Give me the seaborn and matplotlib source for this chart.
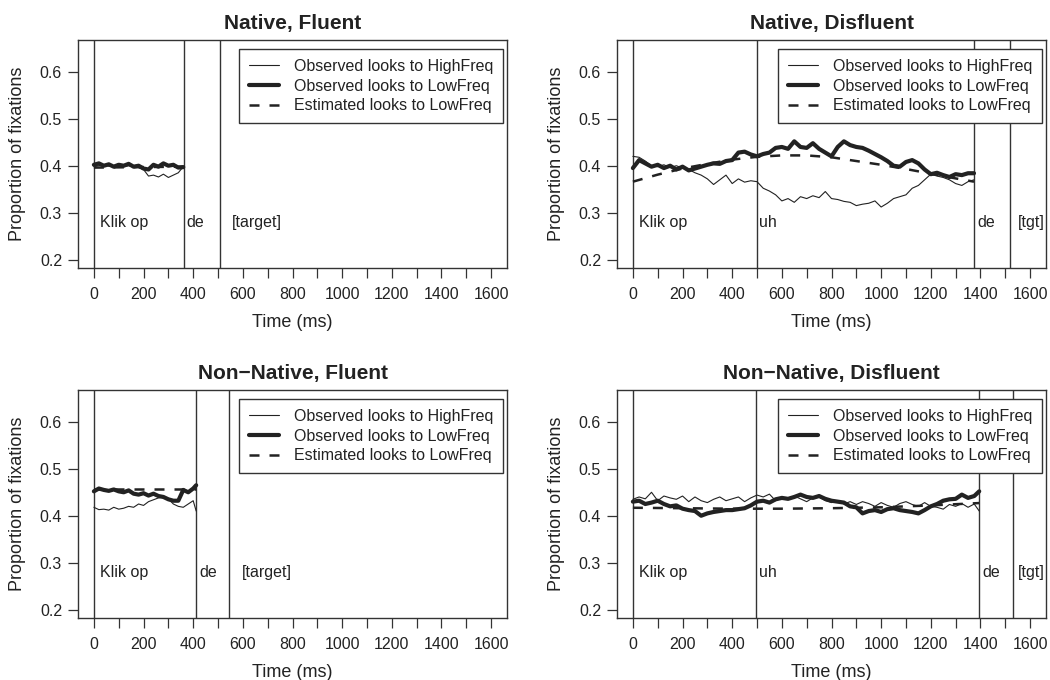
import numpy as np
import pandas as pd
import matplotlib
matplotlib.use("Agg")
import matplotlib.pyplot as plt
import seaborn as sns

sns.set_theme(style="ticks")
plt.rcParams['font.family'] = ['Liberation Sans', 'DejaVu Sans']
plt.rcParams['lines.dashed_pattern'] = [4.0, 4.0]

INK = '#222222'

# ---- data (time in ms, proportion of fixations) ----

# Native, Fluent
nf_time = np.arange(0, 361, 20)
nf_high = [0.398, 0.400, 0.402, 0.399, 0.400, 0.404, 0.398, 0.400, 0.398, 0.396,
           0.392, 0.378, 0.380, 0.376, 0.382, 0.375, 0.380, 0.385, 0.398]
nf_low = [0.402, 0.405, 0.400, 0.403, 0.398, 0.402, 0.400, 0.404, 0.398, 0.400,
          0.394, 0.392, 0.402, 0.398, 0.405, 0.400, 0.402, 0.396, 0.397]
nf_est_time = [0, 362]
nf_est = [0.396, 0.398]

# Native, Disfluent
nd_time = np.append(np.arange(0, 1351, 25), 1374)
nd_high = [0.420, 0.418, 0.410, 0.400, 0.398, 0.402, 0.396, 0.400, 0.395, 0.392,
           0.385, 0.380, 0.372, 0.360, 0.370, 0.380, 0.362, 0.372, 0.365, 0.368,
           0.366, 0.352, 0.346, 0.338, 0.325, 0.330, 0.322, 0.334, 0.330, 0.336,
           0.332, 0.345, 0.330, 0.328, 0.324, 0.322, 0.315, 0.318, 0.320, 0.325,
           0.312, 0.320, 0.330, 0.334, 0.338, 0.352, 0.358, 0.370, 0.382, 0.378,
           0.375, 0.370, 0.362, 0.358, 0.366, 0.370]
nd_low = [0.395, 0.412, 0.405, 0.398, 0.402, 0.395, 0.400, 0.392, 0.398, 0.390,
          0.394, 0.398, 0.402, 0.405, 0.404, 0.410, 0.412, 0.428, 0.430, 0.424,
          0.420, 0.425, 0.428, 0.438, 0.440, 0.436, 0.452, 0.440, 0.438, 0.448,
          0.436, 0.428, 0.420, 0.440, 0.452, 0.444, 0.440, 0.438, 0.432, 0.425,
          0.418, 0.410, 0.400, 0.398, 0.408, 0.412, 0.405, 0.392, 0.382, 0.385,
          0.380, 0.376, 0.382, 0.380, 0.384, 0.384]
nd_est_time = [0, 100, 200, 300, 400, 500, 600, 700, 800, 900, 1000, 1100, 1200, 1300, 1374]
nd_est = [0.366, 0.381, 0.394, 0.404, 0.413, 0.419, 0.422, 0.422, 0.418, 0.410,
          0.402, 0.393, 0.383, 0.373, 0.366]

# Non-Native, Fluent
nnf_time = np.append(np.arange(0, 401, 20), 412)
nnf_high = [0.418, 0.413, 0.414, 0.412, 0.418, 0.414, 0.416, 0.420, 0.418, 0.425,
            0.422, 0.430, 0.434, 0.438, 0.440, 0.436, 0.425, 0.420, 0.418, 0.425,
            0.432, 0.410]
nnf_low = [0.452, 0.458, 0.455, 0.453, 0.456, 0.452, 0.450, 0.454, 0.447, 0.445,
           0.448, 0.443, 0.447, 0.442, 0.440, 0.435, 0.432, 0.432, 0.455, 0.450,
           0.458, 0.465]
nnf_est_time = [0, 412]
nnf_est = [0.456, 0.456]

# Non-Native, Disfluent
nnd_time = np.append(np.arange(0, 1376, 25), 1395)
nnd_high = [0.435, 0.440, 0.436, 0.450, 0.432, 0.442, 0.438, 0.435, 0.442, 0.430,
            0.440, 0.432, 0.428, 0.435, 0.440, 0.432, 0.436, 0.440, 0.430, 0.438,
            0.444, 0.440, 0.446, 0.432, 0.438, 0.435, 0.442, 0.436, 0.430, 0.438,
            0.440, 0.432, 0.428, 0.432, 0.425, 0.430, 0.424, 0.430, 0.426, 0.420,
            0.428, 0.422, 0.418, 0.426, 0.430, 0.424, 0.420, 0.428, 0.420, 0.418,
            0.414, 0.424, 0.420, 0.426, 0.418, 0.425, 0.410]
nnd_low = [0.430, 0.432, 0.425, 0.428, 0.432, 0.425, 0.420, 0.422, 0.415, 0.412,
           0.410, 0.400, 0.405, 0.408, 0.410, 0.412, 0.412, 0.414, 0.416, 0.422,
           0.430, 0.432, 0.428, 0.435, 0.438, 0.436, 0.440, 0.445, 0.440, 0.438,
           0.442, 0.436, 0.432, 0.430, 0.428, 0.420, 0.418, 0.405, 0.410, 0.412,
           0.408, 0.414, 0.416, 0.412, 0.410, 0.408, 0.405, 0.412, 0.420, 0.425,
           0.432, 0.435, 0.436, 0.445, 0.438, 0.442, 0.452]
nnd_est_time = [0, 200, 400, 600, 800, 1000, 1200, 1395]
nnd_est = [0.417, 0.416, 0.415, 0.415, 0.416, 0.418, 0.422, 0.427]

# word boundaries and their labels
nf_bounds = [0, 362, 506]
nd_bounds = [0, 500, 1374, 1520]
nnf_bounds = [0, 412, 545]
nnd_bounds = [0, 494, 1395, 1530]
fluent_words = ['Klik op', 'de', '[target]']
disfluent_words = ['Klik op', 'uh', 'de', '[tgt]']
nf_word_x = [23, 372, 557]
nd_word_x = [24, 508, 1389, 1550]
nnf_word_x = [23, 423, 595]
nnd_word_x = [24, 508, 1409, 1550]

panels = [
    ('Native, Fluent', nf_time, nf_high, nf_low, nf_est_time, nf_est, nf_bounds, fluent_words, nf_word_x),
    ('Native, Disfluent', nd_time, nd_high, nd_low, nd_est_time, nd_est, nd_bounds, disfluent_words, nd_word_x),
    ('Non\u2212Native, Fluent', nnf_time, nnf_high, nnf_low, nnf_est_time, nnf_est, nnf_bounds, fluent_words, nnf_word_x),
    ('Non\u2212Native, Disfluent', nnd_time, nnd_high, nnd_low, nnd_est_time, nnd_est, nnd_bounds, disfluent_words, nnd_word_x),
]

rects = [
    [78 / 1050, 1 - 268 / 680, 429 / 1050, 228 / 680],
    [617 / 1050, 1 - 268 / 680, 429 / 1050, 228 / 680],
    [78 / 1050, 1 - 618 / 680, 429 / 1050, 228 / 680],
    [617 / 1050, 1 - 618 / 680, 429 / 1050, 228 / 680],
]

fig = plt.figure(figsize=(10.5, 6.8), dpi=100)

for rect, (title, t, high, low, et, est, bounds, words, wx) in zip(rects, panels):
    ax = fig.add_axes(rect)
    obs = pd.DataFrame({'time': t, 'high': high, 'low': low})
    est_df = pd.DataFrame({'time': et, 'est': est})

    for b in bounds:
        ax.axvline(b, color='#333333', lw=1.0, zorder=1)

    sns.lineplot(data=obs, x='time', y='high', ax=ax, color=INK, lw=0.8,
                 label='Observed looks to HighFreq')
    sns.lineplot(data=obs, x='time', y='low', ax=ax, color=INK, lw=3.0,
                 label='Observed looks to LowFreq')
    sns.lineplot(data=est_df, x='time', y='est', ax=ax, color=INK, lw=1.8,
                 linestyle='--', label='Estimated looks to LowFreq')

    for w, x in zip(words, wx):
        ax.text(x, 0.280, w, fontsize=11.5, color=INK, ha='left', va='center')

    ax.set_xlim(-64, 1664)
    ax.set_ylim(0.182, 0.668)
    ax.set_xticks(np.arange(0, 1601, 100))
    ax.set_xticklabels([str(v) if v % 200 == 0 else '' for v in range(0, 1601, 100)])
    ax.set_yticks([0.2, 0.3, 0.4, 0.5, 0.6])
    ax.set_yticklabels(['0.2', '0.3', '0.4', '0.5', '0.6'])
    ax.tick_params(direction='out', length=7.5, width=0.9, color='#333333',
                   labelsize=11.5, labelcolor=INK)
    ax.tick_params(axis='x', pad=6)
    ax.tick_params(axis='y', pad=4)
    for s in ax.spines.values():
        s.set_visible(True)
        s.set_linewidth(1.0)
        s.set_color('#333333')

    ax.set_xlabel('Time (ms)', fontsize=13, color=INK, labelpad=9)
    ax.set_ylabel('Proportion of fixations', fontsize=13, color=INK, labelpad=10)
    ax.set_title(title, fontsize=15, fontweight='bold', color=INK, pad=8)

    leg = ax.legend(loc='upper right', bbox_to_anchor=(0.991, 0.961), fontsize=11.5,
                    frameon=True, fancybox=False, framealpha=1, edgecolor='#333333',
                    handlelength=1.9, handletextpad=0.9, labelspacing=0.3,
                    borderpad=0.62, borderaxespad=0)
    leg.get_frame().set_linewidth(1.0)
    for txt in leg.get_texts():
        txt.set_color(INK)

fig.savefig('out.png', dpi=100, facecolor='white')
